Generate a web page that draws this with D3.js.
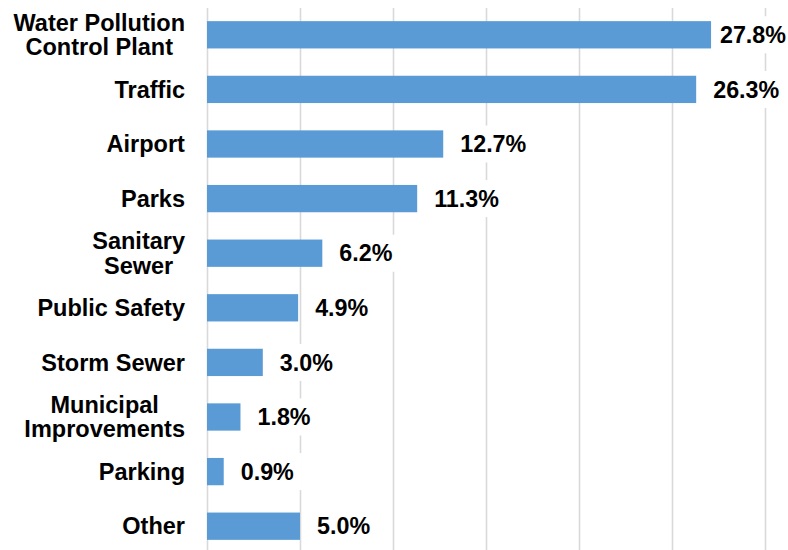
<!DOCTYPE html>
<html>
<head>
<meta charset="utf-8">
<script src="https://cdnjs.cloudflare.com/ajax/libs/d3/7.8.5/d3.min.js"></script>
<style>
    body { margin: 0; background: #fff; }
    text { font-family: "Liberation Sans", Arial, sans-serif; font-weight: bold; fill: #000; }
</style>
</head>
<body>
<div id="chart-container"></div>
<script>

// categories (top to bottom), one entry per line of the label
var categories = [
    ["Water Pollution", "Control Plant"],
    ["Traffic"],
    ["Airport"],
    ["Parks"],
    ["Sanitary", "Sewer"],
    ["Public Safety"],
    ["Storm Sewer"],
    ["Municipal", "Improvements"],
    ["Parking"],
    ["Other"]
];

// bar lengths as drawn in the picture (percent)
var values = [27.1, 26.3, 12.7, 11.3, 6.2, 4.9, 3.0, 1.8, 0.9, 5.0];

// data labels as printed
var valueLabels = ["27.8%", "26.3%", "12.7%", "11.3%", "6.2%", "4.9%", "3.0%", "1.8%", "0.9%", "5.0%"];

var xTicks = [0, 5, 10, 15, 20, 25, 30];

var width = 788,
    height = 550;

var dataset = values.map(function (v, i) {
    return { index: i, name: categories[i], value: v, label: valueLabels[i] };
});

var svg = d3.select("#chart-container")
    .append("svg")
    .attr("width", width)
    .attr("height", height);

var xScale = d3.scaleLinear()
    .domain([0, 30])
    .range([207, 765]);

var yScale = d3.scaleBand()
    .domain(d3.range(dataset.length))
    .range([7.5, 553.5])
    .paddingInner(0.5)
    .paddingOuter(0.25);

// vertical gridlines
var grid = svg.append("g")
    .attr("transform", "translate(0, 8)")
    .call(d3.axisBottom(xScale)
        .tickValues(xTicks)
        .tickSize(height)
        .tickFormat(""));
grid.select(".domain").remove();
grid.selectAll("line")
    .attr("stroke", "#d9d9d9")
    .attr("stroke-width", 1.6);

// bars
svg.selectAll("rect.bar")
    .data(dataset)
    .enter()
    .append("rect")
    .attr("class", "bar")
    .attr("x", xScale(0))
    .attr("y", function (d) {
        return yScale(d.index);
    })
    .attr("width", function (d) {
        return xScale(d.value) - xScale(0);
    })
    .attr("height", yScale.bandwidth())
    .attr("fill", "#5b9bd5");

// value labels with white boxes
var labelGroups = svg.selectAll("g.vlabel")
    .data(dataset)
    .enter()
    .append("g")
    .attr("class", "vlabel");

labelGroups.append("rect")
    .attr("fill", "#fff");

var labelTexts = labelGroups.append("text")
    .attr("font-size", "23.3px")
    .attr("y", function (d) {
        return yScale(d.index) + yScale.bandwidth() / 2;
    })
    .attr("dy", "0.35em")
    .text(function (d) {
        return d.label;
    });

labelTexts.each(function (d) {
    var w = this.getComputedTextLength();
    var x = xScale(d.value) + 17;
    if (x + w > width - 2) {
        x = width - 2 - w;
    }
    d3.select(this).attr("x", x);
    d3.select(this.previousSibling)
        .attr("x", x - 8)
        .attr("width", w + 16)
        .attr("y", yScale(d.index) + yScale.bandwidth() / 2 - 18.5)
        .attr("height", 37);
});

// category labels, multi-line centered on each other
var lineHeight = 24.3;
var catTexts = svg.selectAll("text.cat")
    .data(dataset)
    .enter()
    .append("text")
    .attr("class", "cat")
    .attr("font-size", "23.5px")
    .attr("text-anchor", "middle");

catTexts.each(function (d) {
    var t = d3.select(this);
    var cy = yScale(d.index) + yScale.bandwidth() / 2;
    var n = d.name.length;
    d.name.forEach(function (line, k) {
        t.append("tspan")
            .attr("x", 0)
            .attr("y", cy + (k - (n - 1) / 2) * lineHeight)
            .attr("dy", "0.35em")
            .text(line);
    });
    var w = this.getBBox().width;
    t.selectAll("tspan").attr("x", 185 - w / 2);
});

</script>
</body>
</html>
